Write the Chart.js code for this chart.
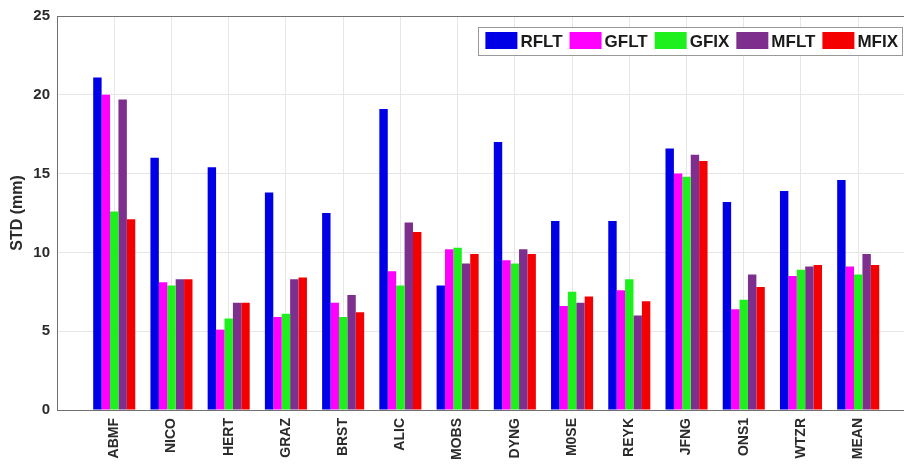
<!DOCTYPE html>
<html>
<head>
<meta charset="utf-8">
<script src="https://cdn.jsdelivr.net/npm/chart.js@4.4.1/dist/chart.umd.min.js"></script>
<style>
  html, body { margin: 0; padding: 0; background: #fff; }
  #wrap { width: 904px; height: 466px; position: relative; }
</style>
</head>
<body>
<div id="wrap"><canvas id="chart"></canvas></div>
<script>
// station names along the x axis
const stations = ['ABMF', 'NICO', 'HERT', 'GRAZ', 'BRST', 'ALIC', 'MOBS',
                  'DYNG', 'M0SE', 'REYK', 'JFNG', 'ONS1', 'WTZR', 'MEAN'];

// STD values (mm) per solution
const rflt = [21.1, 16.0, 15.4, 13.8, 12.5, 19.1, 7.9, 17.0, 12.0, 12.0, 16.6, 13.2, 13.9, 14.6];
const gflt = [20.0, 8.1, 5.1, 5.9, 6.8, 8.8, 10.2, 9.5, 6.6, 7.6, 15.0, 6.4, 8.5, 9.1];
const gfix = [12.6, 7.9, 5.8, 6.1, 5.9, 7.9, 10.3, 9.3, 7.5, 8.3, 14.8, 7.0, 8.9, 8.6];
const mflt = [19.7, 8.3, 6.8, 8.3, 7.3, 11.9, 9.3, 10.2, 6.8, 6.0, 16.2, 8.6, 9.1, 9.9];
const mfix = [12.1, 8.3, 6.8, 8.4, 6.2, 11.3, 9.9, 9.9, 7.2, 6.9, 15.8, 7.8, 9.2, 9.2];

const yTicks = [0, 5, 10, 15, 20, 25];

const FONT = '"Liberation Sans", Arial, Helvetica, sans-serif';
Chart.defaults.font.family = FONT;
Chart.defaults.font.weight = 'bold';
Chart.defaults.color = '#2b2b2b';

function series(values) {
  return values.map((v, i) => ({ x: i + 1, y: v }));
}

// legend drawn as a boxed row inside the plot, like the original figure
const boxLegend = {
  id: 'boxLegend',
  afterDraw(chart) {
    const ctx = chart.ctx;
    const area = chart.chartArea;
    ctx.save();
    ctx.font = 'bold 17px ' + FONT;
    const sw = 32, sh = 17, gapA = 3, gapB = 7, padL = 7, padR = 4, h = 28;
    const items = chart.data.datasets.map(ds => ({
      label: ds.label,
      color: ds.backgroundColor,
      w: ctx.measureText(ds.label).width
    }));
    let total = padL + padR;
    items.forEach((it, i) => {
      total += sw + gapA + it.w + (i < items.length - 1 ? gapB : 0);
    });
    const right = area.right - 2;
    const top = area.top + 11;
    const left = right - total;
    ctx.fillStyle = '#fff';
    ctx.fillRect(left, top, total, h);
    ctx.strokeStyle = '#999';
    ctx.lineWidth = 1;
    ctx.strokeRect(Math.round(left) + 0.5, top + 0.5, Math.round(total), h);
    let x = left + padL;
    ctx.textBaseline = 'middle';
    items.forEach(it => {
      ctx.fillStyle = it.color;
      ctx.fillRect(x, top + 5, sw, sh);
      x += sw + gapA;
      ctx.fillStyle = '#1a1a1a';
      ctx.fillText(it.label, x, top + h / 2 + 1);
      x += it.w + gapB;
    });
    ctx.restore();
  }
};

const chartData = {
  datasets: [
    { label: 'RFLT', data: series(rflt), backgroundColor: 'rgb(0, 0, 230)' },
    { label: 'GFLT', data: series(gflt), backgroundColor: 'rgb(255, 0, 255)' },
    { label: 'GFIX', data: series(gfix), backgroundColor: 'rgb(30, 240, 30)' },
    { label: 'MFLT', data: series(mflt), backgroundColor: 'rgb(126, 47, 142)' },
    { label: 'MFIX', data: series(mfix), backgroundColor: 'rgb(245, 0, 0)' }
  ]
};

const config = {
  type: 'bar',
  data: chartData,
  options: {
    animation: false,
    responsive: true,
    maintainAspectRatio: false,
    layout: { padding: { top: 16, right: 0, left: 0, bottom: 0 } },
    datasets: {
      bar: {
        categoryPercentage: 0.735,
        barPercentage: 1.0,
        borderWidth: 0
      }
    },
    plugins: {
      legend: { display: false },
      tooltip: { enabled: false }
    },
    scales: {
      x: {
        type: 'linear',
        min: 0,
        max: 14.8,
        offset: false,
        afterBuildTicks: scale => {
          scale.ticks = stations.map((s, i) => ({ value: i + 1 }));
        },
        afterFit: scale => { scale.height = 56; },
        grid: {
          color: '#e6e6e6',
          drawTicks: false,
          offset: false
        },
        border: { display: true, color: '#707070' },
        ticks: {
          autoSkip: false,
          minRotation: 90,
          maxRotation: 90,
          padding: 8,
          font: { size: 14, weight: 'bold' },
          callback: value => stations[value - 1] || ''
        }
      },
      y: {
        min: 0,
        max: 25,
        afterBuildTicks: scale => {
          scale.ticks = yTicks.map(v => ({ value: v }));
        },
        afterFit: scale => { scale.width = 57; },
        grid: {
          color: ctx => (ctx.tick && ctx.tick.value === 25) ? '#707070' : '#e6e6e6',
          drawTicks: false
        },
        border: { display: true, color: '#707070' },
        ticks: {
          padding: 7,
          font: { size: 15, weight: 'bold' }
        },
        title: {
          display: true,
          text: 'STD (mm)',
          padding: { top: 8, bottom: 0 },
          font: { size: 16, weight: 'bold' }
        }
      }
    }
  },
  plugins: [boxLegend]
};

new Chart(document.getElementById('chart'), config);
</script>
</body>
</html>
